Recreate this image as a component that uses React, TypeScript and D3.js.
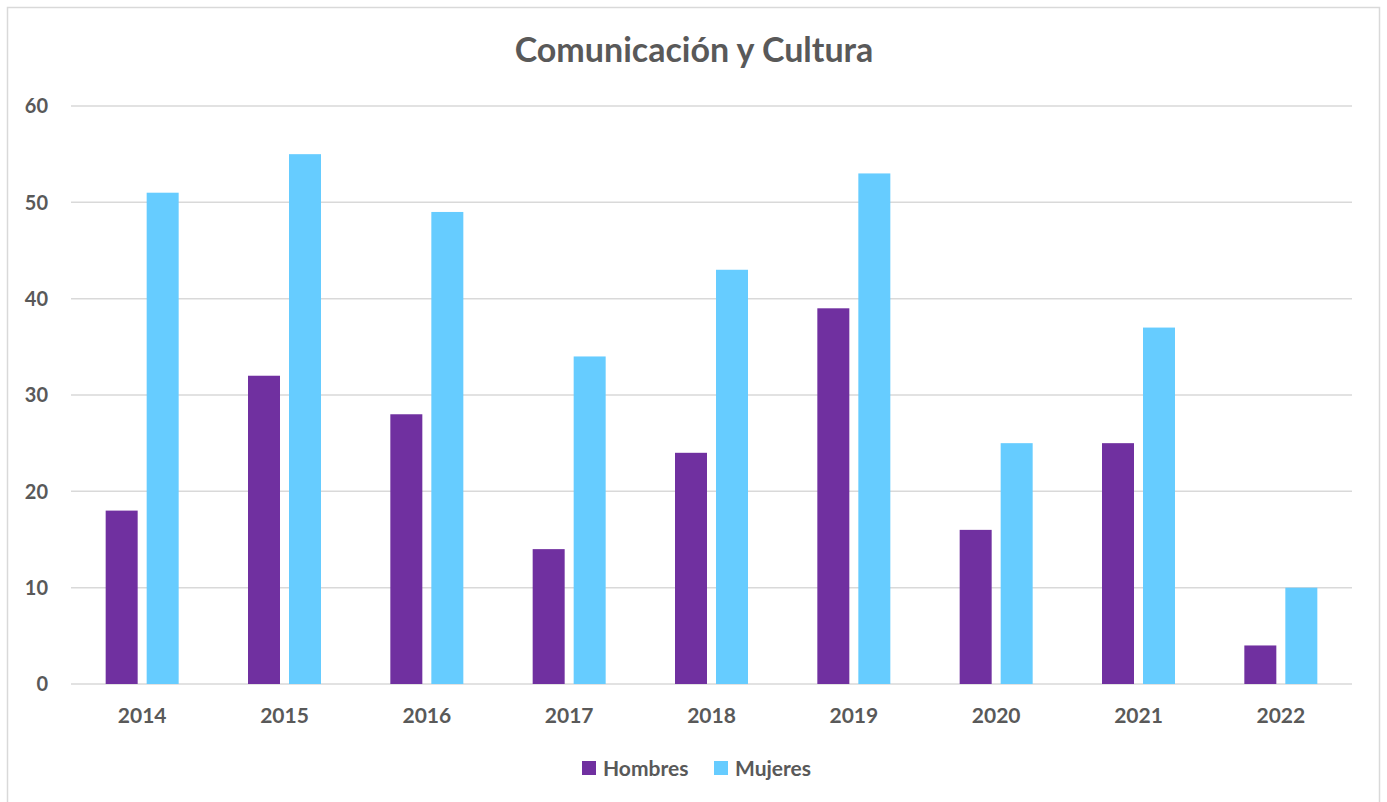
import * as d3 from "d3";

const years = ["2014", "2015", "2016", "2017", "2018", "2019", "2020", "2021", "2022"];
const hombres = [18, 32, 28, 14, 24, 39, 16, 25, 4];
const mujeres = [51, 55, 49, 34, 43, 53, 25, 37, 10];
const yTicks = [0, 10, 20, 30, 40, 50, 60];

const W = 1387;
const H = 802;
const FONT = "Lato, 'Open Sans', sans-serif";
const TEXT = "#595959";
const PURPLE = "#7030A0";
const BLUE = "#66CCFF";

export default function App() {
  const x = d3.scaleBand<string>().domain(years).range([71, 1352]);
  const y = d3.scaleLinear().domain([0, 60]).range([684, 106]);
  const barW = 32;
  const gap = 9;

  return (
    <div style={{ position: "absolute", left: 0, top: 0 }}>
      <svg width={W} height={H} style={{ display: "block", fontFamily: FONT }}>
        <rect x={0} y={0} width={W} height={H} fill="#fff" />
        <rect x={7.5} y={7.5} width={1372} height={820} fill="none" stroke="#d9d9d9" strokeWidth={1.5} />

        <text x={694} y={62} textAnchor="middle" fontSize={34} fontWeight={700} fill={TEXT}>
          Comunicación y Cultura
        </text>

        {/* gridlines + y labels */}
        {yTicks.map((t) => (
          <g key={t}>
            <line x1={71} x2={1352} y1={y(t)} y2={y(t)} stroke="#d9d9d9" strokeWidth={1.5} />
            <text x={48} y={y(t)} dy="0.36em" textAnchor="end" fontSize={20} fontWeight={700} fill={TEXT}>
              {t}
            </text>
          </g>
        ))}

        {/* bars */}
        {years.map((yr, i) => {
          const c = (x(yr) ?? 0) + x.bandwidth() / 2;
          return (
            <g key={yr}>
              <rect x={c - gap / 2 - barW} y={y(hombres[i])} width={barW} height={y(0) - y(hombres[i])} fill={PURPLE} />
              <rect x={c + gap / 2} y={y(mujeres[i])} width={barW} height={y(0) - y(mujeres[i])} fill={BLUE} />
              <text x={c} y={715} dy="0.36em" textAnchor="middle" fontSize={21} fontWeight={700} fill={TEXT}>
                {yr}
              </text>
            </g>
          );
        })}

        {/* legend */}
        <rect x={582} y={761} width={14} height={14} fill={PURPLE} />
        <text x={603} y={768} dy="0.36em" fontSize={21} fontWeight={700} fill={TEXT}>
          Hombres
        </text>
        <rect x={714} y={761} width={14} height={14} fill={BLUE} />
        <text x={735} y={768} dy="0.36em" fontSize={21} fontWeight={700} fill={TEXT}>
          Mujeres
        </text>
      </svg>
    </div>
  );
}
